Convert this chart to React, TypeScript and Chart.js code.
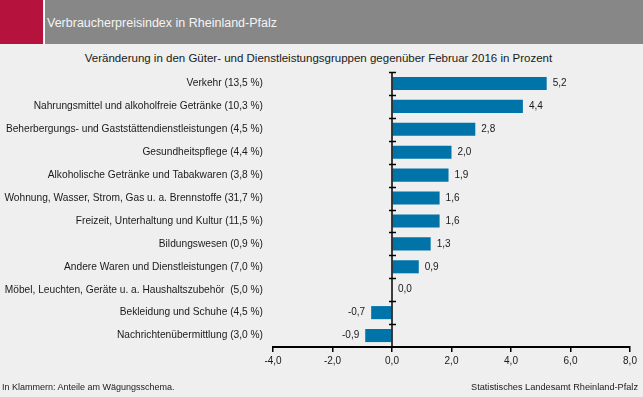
import React, { useEffect, useRef } from "react";
import { Chart, registerables } from "chart.js";

Chart.register(...registerables);

const headerTitle = "Verbraucherpreisindex in Rheinland-Pfalz";
const chartTitle = "Veränderung in den Güter- und Dienstleistungsgruppen gegenüber Februar 2016 in Prozent";
const footerLeft = "In Klammern: Anteile am Wägungsschema.";
const footerRight = "Statistisches Landesamt Rheinland-Pfalz";

const categories = [
  "Verkehr (13,5 %)",
  "Nahrungsmittel und alkoholfreie Getränke (10,3 %)",
  "Beherbergungs- und Gaststättendienstleistungen (4,5 %)",
  "Gesundheitspflege (4,4 %)",
  "Alkoholische Getränke und Tabakwaren (3,8 %)",
  "Wohnung, Wasser, Strom, Gas u. a. Brennstoffe (31,7 %)",
  "Freizeit, Unterhaltung und Kultur (11,5 %)",
  "Bildungswesen (0,9 %)",
  "Andere Waren und Dienstleistungen (7,0 %)",
  "Möbel, Leuchten, Geräte u. a. Haushaltszubehör  (5,0 %)",
  "Bekleidung und Schuhe (4,5 %)",
  "Nachrichtenübermittlung (3,0 %)",
];

const values = [5.2, 4.4, 2.8, 2.0, 1.9, 1.6, 1.6, 1.3, 0.9, 0.0, -0.7, -0.9];

const xMin = -4;
const xMax = 8;
const xStep = 2;

const FONT = "'Liberation Sans', Arial, sans-serif";
const TEXT = "#1a1a1a";
const BAR = "#0073a8";

const fmt = (v: number) => v.toFixed(1).replace(".", ",");

const zeroAxisPlugin = {
  id: "zeroAxis",
  afterDatasetsDraw(chart: any) {
    const { ctx, chartArea, scales } = chart;
    const x0 = scales.x.getPixelForValue(0);
    ctx.save();
    ctx.strokeStyle = "#000";
    ctx.lineWidth = 1.5;
    ctx.beginPath();
    ctx.moveTo(x0, chartArea.top);
    ctx.lineTo(x0, chartArea.bottom);
    ctx.stroke();
    const n = chart.data.labels.length;
    const band = (chartArea.bottom - chartArea.top) / n;
    ctx.lineWidth = 1.5;
    for (let i = 0; i < n; i++) {
      const y = Math.round(chartArea.top + i * band) + 0.5;
      ctx.beginPath();
      ctx.moveTo(x0 - 3, y);
      ctx.lineTo(x0 + 4, y);
      ctx.stroke();
    }
    ctx.font = `10px ${FONT}`;
    ctx.fillStyle = TEXT;
    ctx.textBaseline = "middle";
    const meta = chart.getDatasetMeta(0);
    meta.data.forEach((bar: any, i: number) => {
      const v = chart.data.datasets[0].data[i];
      if (v < 0) {
        ctx.textAlign = "right";
        ctx.fillText(fmt(v), bar.x - 6, bar.y);
      } else {
        ctx.textAlign = "left";
        ctx.fillText(fmt(v), bar.x + 6, bar.y);
      }
    });
    ctx.restore();
  },
};

export default function App() {
  const canvasRef = useRef<HTMLCanvasElement | null>(null);

  useEffect(() => {
    document.body.style.margin = "0";
    const canvas = canvasRef.current;
    if (!canvas) return;
    const chart = new Chart(canvas, {
      type: "bar",
      data: {
        labels: categories,
        datasets: [
          {
            data: values,
            backgroundColor: BAR,
            borderWidth: 0,
            barPercentage: 0.57,
            categoryPercentage: 1,
          },
        ],
      },
      options: {
        indexAxis: "y",
        responsive: false,
        animation: false,
        events: [],
        layout: { padding: { left: 0, right: 13, top: 72, bottom: 28 } },
        plugins: {
          legend: { display: false },
          tooltip: { enabled: false },
          title: { display: false },
        },
        scales: {
          x: {
            min: xMin,
            max: xMax,
            ticks: {
              stepSize: xStep,
              callback: (v: any) => fmt(Number(v)),
              font: { family: FONT, size: 10 },
              color: TEXT,
              padding: 3,
              maxRotation: 0,
            },
            grid: {
              display: true,
              drawOnChartArea: false,
              drawTicks: true,
              tickLength: 5,
              color: "#000",
              lineWidth: 1.5,
            },
            border: { display: true, color: "#000", width: 2 },
            afterFit: (s: any) => {
              s.height = 22;
            },
          },
          y: {
            ticks: {
              font: { family: FONT, size: 10.2 },
              color: TEXT,
              padding: 10,
            },
            grid: { display: false, drawTicks: false },
            border: { display: false },
            afterFit: (s: any) => {
              s.width = 273;
            },
          },
        },
      },
      plugins: [zeroAxisPlugin],
    });
    return () => chart.destroy();
  }, []);

  return (
    <div
      style={{
        position: "fixed",
        left: 0,
        top: 0,
        width: 643,
        height: 397,
        background: "#eeefee",
        fontFamily: FONT,
        overflow: "hidden",
      }}
    >
      <div style={{ position: "absolute", left: 0, top: 0, width: 43, height: 44, background: "#b5123e" }} />
      <div style={{ position: "absolute", left: 44, top: 0, width: 1, height: 44, background: "#ffffff" }} />
      <div style={{ position: "absolute", left: 45, top: 0, width: 598, height: 44, background: "#878787" }} />
      <div
        style={{
          position: "absolute",
          left: 47,
          top: 15,
          fontSize: 12.5,
          lineHeight: "16px",
          color: "#f4f4f4",
          whiteSpace: "nowrap",
        }}
      >
        {headerTitle}
      </div>
      <div
        style={{
          position: "absolute",
          left: 0,
          top: 51,
          width: 637,
          textAlign: "center",
          fontSize: 11.5,
          lineHeight: "14px",
          color: TEXT,
          whiteSpace: "nowrap",
        }}
      >
        {chartTitle}
      </div>
      <canvas
        ref={canvasRef}
        width={643}
        height={397}
        style={{ position: "absolute", left: 0, top: 0, width: 643, height: 397 }}
      />
      <div
        style={{
          position: "absolute",
          left: 2,
          top: 381,
          fontSize: 9,
          lineHeight: "12px",
          color: TEXT,
          whiteSpace: "nowrap",
        }}
      >
        {footerLeft}
      </div>
      <div
        style={{
          position: "absolute",
          right: 5,
          top: 381,
          fontSize: 9.2,
          lineHeight: "12px",
          color: TEXT,
          whiteSpace: "nowrap",
        }}
      >
        {footerRight}
      </div>
    </div>
  );
}
